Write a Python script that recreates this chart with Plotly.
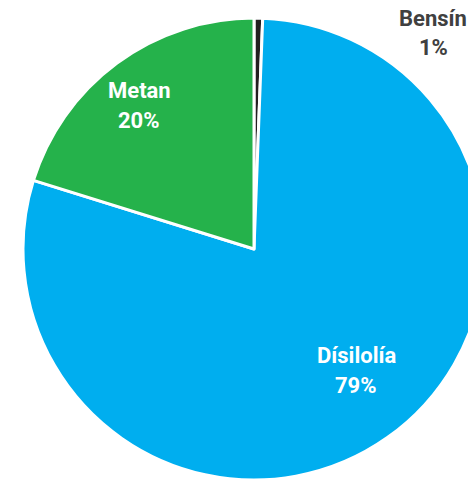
import plotly.graph_objects as go

labels = ["Bensín", "Dísilolía", "Metan"]
values = [0.6, 79.2, 20.2]
colors = ["#231F20", "#00AEEF", "#25B24B"]
label_colors = ["#404040", "#FFFFFF", "#FFFFFF"]
# label anchor positions (pixels in figure)
label_pos = [(433, 33), (356, 370), (139, 105)]

W, H = 508, 498
fig = go.Figure(go.Pie(
    labels=labels, values=values, sort=False, direction="clockwise", rotation=0,
    marker=dict(colors=colors, line=dict(color="white", width=3)),
    textinfo="none", hoverinfo="label+percent", showlegend=False,
    domain=dict(x=[23 / W, 485 / W], y=[18 / H, 480 / H]),
))

total = sum(values)
for lab, v, col, (px, py) in zip(labels, values, label_colors, label_pos):
    pct = max(1, round(v / total * 100))
    for txt, dy in ((lab, -15), (f"{pct}%", 15)):
        fig.add_annotation(
            x=px / W, y=1 - (py + dy) / H, xref="paper", yref="paper",
            xanchor="center", yanchor="middle",
            text=f"<b>{txt}</b>",
            showarrow=False, align="center",
            font=dict(family="Roboto", size=22, color=col),
        )

fig.update_layout(
    width=W, height=H, margin=dict(l=0, r=0, t=0, b=0),
    paper_bgcolor="white", plot_bgcolor="white",
)
fig.write_html(
    "out.html",
    config={"displayModeBar": False},
    post_script="document.documentElement.style.overflow='hidden';document.body.style.overflow='hidden';document.body.style.margin='0';",
)
